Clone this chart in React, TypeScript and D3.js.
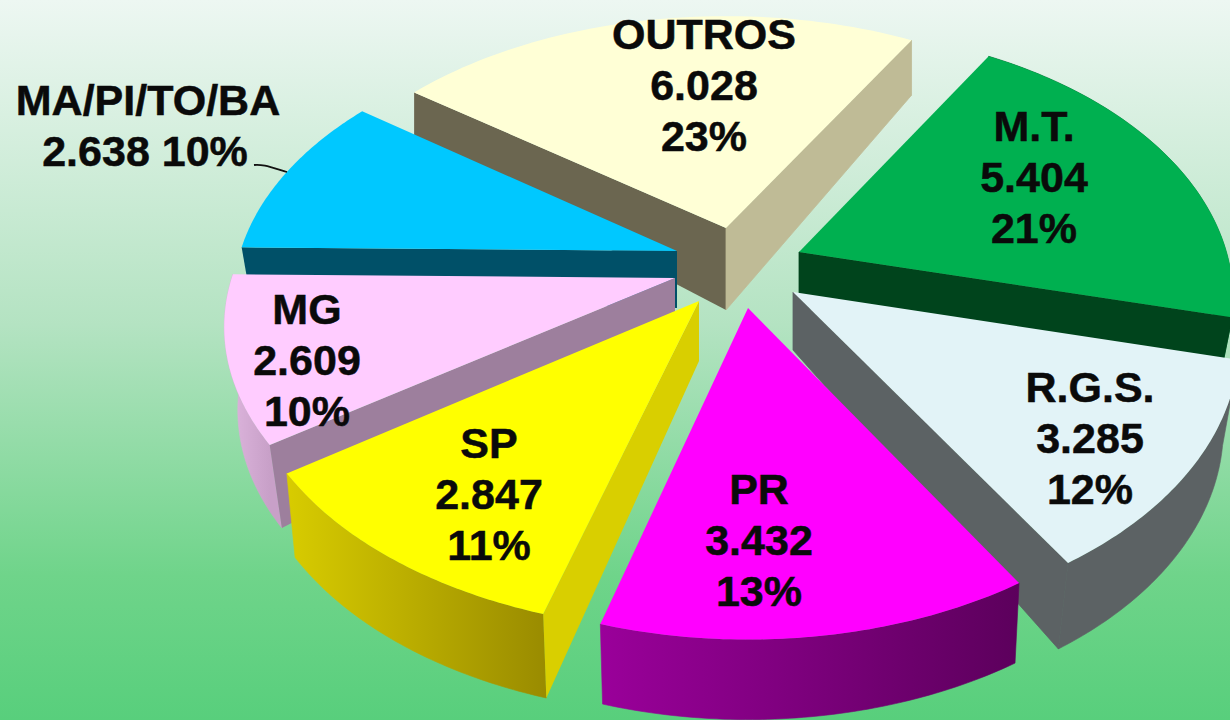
import React from "react";
import * as d3 from "d3";

const categories = ["OUTROS", "M.T.", "R.G.S.", "PR", "SP", "MG", "MA/PI/TO/BA"];
const values = [6028, 5404, 3285, 3432, 2847, 2609, 2638];
const valueLabels = ["6.028", "5.404", "3.285", "3.432", "2.847", "2.609", "2.638"];
const percentLabels = ["23%", "21%", "12%", "13%", "11%", "10%", "10%"];

const W = 1230, H = 720;
const deg = Math.PI / 180;
const START = 217 * deg;
const R = 450, RQ = 265, K = 0.184;

type Look = {
  apex: [number, number]; rs: number; ys: number; da: number; db: number; dA: number; dR: number; sx: number;
  top: string; startWall?: string; endWall?: string; arc?: [string, string];
};
const looks: Look[] = [
  { apex: [726, 228], rs: 0.96, ys: 0.98, da: 0, db: 0, dA: 82, dR: 55, sx: 1, top: "#ffffd6", startWall: "#6b6650", endWall: "#bfbb96" },
  { apex: [799, 252], rs: 0.95, ys: 1.04, da: 1, db: 0, dA: 55, dR: 64, sx: 0.97, top: "#00b050", endWall: "#00441c", arc: ["#008a3e", "#00662e"] },
  { apex: [793, 292], rs: 0.975, ys: 1.05, da: 0, db: -1, dA: 58, dR: 86, sx: 0.965, top: "#e2f3f7", endWall: "#5c6264", arc: ["#5c6264", "#5c6264"] },
  { apex: [748, 308], rs: 0.985, ys: 1.04, da: 0, db: 0, dA: 60, dR: 80, sx: 0.985, top: "#ff00ff", arc: ["#5c005c", "#9a009a"] },
  { apex: [699, 301], rs: 1, ys: 1.015, da: 0.6, db: 0, dA: 60, dR: 84, sx: 0.98, top: "#ffff00", startWall: "#d9cf00", arc: ["#9a8c00", "#d8cc00"] },
  { apex: [675, 278], rs: 0.985, ys: 1, da: 0, db: 0, dA: 50, dR: 83, sx: 0.97, top: "#ffccff", startWall: "#9d7f9d", arc: ["#c8a0c8", "#e0b8e0"] },
  { apex: [677, 251], rs: 0.97, ys: 1, da: 0, db: 0, dA: 57, dR: 50, sx: 0.98, top: "#00c8ff", startWall: "#005068" },
];
// label anchor: x centre, first baseline
const labelPos: [number, number][] = [[704, 49], [1034, 141], [1090, 402], [759, 504], [489, 458], [307, 324]];

const project = (a: number, r: number, look: Look, bottom: boolean): [number, number] => {
  const X = r * look.rs * Math.cos(a), Y = r * look.rs * Math.sin(a);
  const s = 1 / (1 - K * Y);
  const dx = R * X * s, dy = RQ * look.ys * Y * s;
  if (!bottom) return [look.apex[0] + dx, look.apex[1] + dy];
  const depth = look.dA + (look.dR - look.dA) * r;
  return [look.apex[0] + dx * look.sx, look.apex[1] + dy + depth];
};

const line = d3.line();

export default function App() {
  const arcs = d3.pie<number>().sort(null).startAngle(START).endAngle(START + 2 * Math.PI)(values);
  const slices = arcs.map((arc, i) => {
    const look = looks[i];
    const a0 = arc.startAngle + look.da * deg, a1 = arc.endAngle + look.db * deg;
    const ts = d3.range(0, 61).map((k) => a0 + ((a1 - a0) * k) / 60);
    const rimTop = ts.map((t) => project(t, 1, look, false));
    const rimBot = ts.map((t) => project(t, 1, look, true));
    const aT = project(0, 0, look, false), aB = project(0, 0, look, true);
    const first = 0, last = ts.length - 1;
    return {
      look, i,
      top: line([aT, ...rimTop])! + "Z",
      arcWall: line([...rimTop, ...rimBot.slice().reverse()])! + "Z",
      startWall: line([aT, rimTop[first], rimBot[first], aB])! + "Z",
      endWall: line([aT, rimTop[last], rimBot[last], aB])! + "Z",
      x0: Math.min(...rimTop.map((p) => p[0])), x1: Math.max(...rimTop.map((p) => p[0])),
    };
  });
  const order = [0, 6, 5, 1, 2, 4, 3];
  const font = { fontFamily: "'Liberation Sans', Arial, sans-serif", fontWeight: 700, fontSize: 43, fill: "#0a0a0a", stroke: "#0a0a0a", strokeWidth: 0.5 };
  return (
    <svg width={W} height={H} viewBox={`0 0 ${W} ${H}`} style={{ position: "fixed", left: 0, top: 0 }}>
      <defs>
        <linearGradient id="bg" x1="0" y1="0" x2="0" y2="1">
          <stop offset="0" stopColor="#edf7f2" />
          <stop offset="0.45" stopColor="#b4e3c2" />
          <stop offset="0.8" stopColor="#6fd48a" />
          <stop offset="1" stopColor="#58cf7c" />
        </linearGradient>
        {slices.filter((s) => s.look.arc).map((s) => (
          <linearGradient key={s.i} id={`arc${s.i}`} gradientUnits="userSpaceOnUse" x1={s.x0} x2={s.x1} y1="0" y2="0">
            <stop offset="0" stopColor={s.look.arc![1]} />
            <stop offset="1" stopColor={s.look.arc![0]} />
          </linearGradient>
        ))}
      </defs>
      <rect width={W} height={H} fill="url(#bg)" />
      {order.map((k) => {
        const s = slices[k];
        return (
          <g key={k}>
            {s.look.arc && <path d={s.arcWall} fill={`url(#arc${k})`} stroke={`url(#arc${k})`} strokeWidth={0.6} />}
            {s.look.startWall && <path d={s.startWall} fill={s.look.startWall} />}
            {s.look.endWall && <path d={s.endWall} fill={s.look.endWall} stroke={s.look.endWall} strokeWidth={0.8} />}
            <path d={s.top} fill={s.look.top} />
          </g>
        );
      })}
      <path d="M254,165 C262,164 270,167 287,172" fill="none" stroke="#111" strokeWidth={1.8} />
      {labelPos.map(([x, y], i) => (
        <g key={i} textAnchor="middle" style={font as any}>
          <text x={x} y={y}>{categories[i]}</text>
          <text x={x} y={y + 51}>{valueLabels[i]}</text>
          <text x={x} y={y + 102}>{percentLabels[i]}</text>
        </g>
      ))}
      <g textAnchor="middle" style={font as any}>
        <text x={148} y={115}>{categories[6]}</text>
        <text x={145} y={166}>{`${valueLabels[6]} ${percentLabels[6]}`}</text>
      </g>
    </svg>
  );
}
